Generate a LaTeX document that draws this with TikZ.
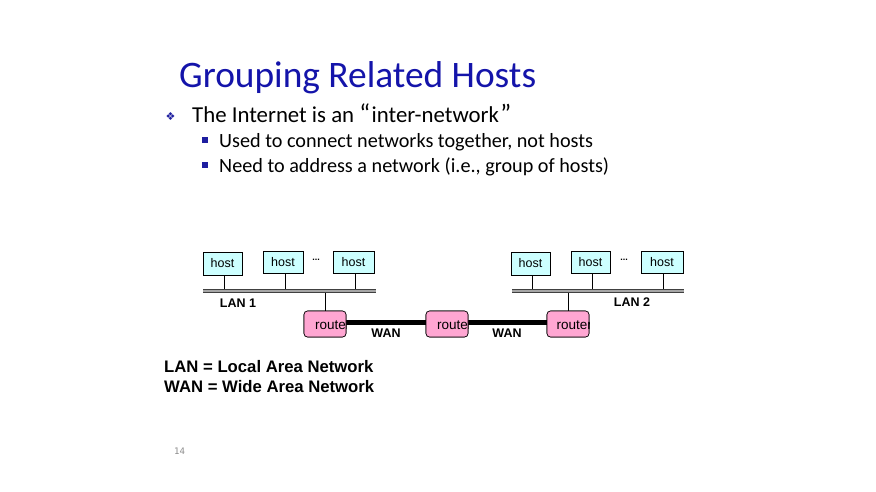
\documentclass[tikz,border=0pt]{standalone}
\usepackage{fontspec}
\setmainfont{Carlito}
\newfontfamily\diagfont{Liberation Sans}
\newfontfamily\symfont{DejaVu Sans}
\newfontfamily\numfont{DejaVu Sans Mono}
\definecolor{titleblue}{RGB}{20,20,170}
\definecolor{bulletblue}{RGB}{30,30,160}
\definecolor{hostfill}{RGB}{204,255,255}
\definecolor{routerfill}{RGB}{255,166,210}
\begin{document}
\begin{tikzpicture}[x=1pt,y=-1pt,
  hostbox/.style={draw=black, fill=hostfill, line width=0.6pt, inner sep=0pt,
    font=\diagfont\fontsize{12.5}{13}\selectfont},
  routerbox/.style={draw=black, fill=routerfill, rounded corners=3.5pt, line width=0.6pt,
    inner sep=0pt, minimum width=42pt, minimum height=26pt,
    path picture={\node[font=\diagfont\fontsize{13.5}{14}\selectfont, anchor=west, inner sep=0pt]
      at ([xshift=#1,yshift=-1.5pt]path picture bounding box.west) {router};}},
  routerbox/.default=7.5pt,
  bus/.style={draw=black!75, double=black!35, line width=0.8pt, double distance=1.6pt},
  drop/.style={draw=black, line width=0.6pt},
  wan/.style={draw=black, line width=5pt},
  netlabel/.style={font=\diagfont\bfseries\fontsize{12.5}{13}\selectfont},
  legend/.style={font=\diagfont\bfseries\fontsize{16.7}{20}\selectfont, anchor=base west},
  dots/.style={font=\diagfont\bfseries\fontsize{9}{10}\selectfont, inner sep=0pt}
]
\useasboundingbox[fill=white] (0,0) rectangle (876,491);

% heading and bullet text
\node[anchor=base west, inner sep=0pt, text=titleblue,
  font=\fontsize{37.4}{40}\selectfont] (title) at (179,87) {Grouping Related Hosts};
\node[anchor=base, inner sep=0pt, text=bulletblue,
  font=\symfont\fontsize{11}{12}\selectfont] (b0) at (170.5,120) {❖};
\node[anchor=base west, inner sep=0pt, font=\fontsize{22.8}{24}\selectfont]
  (l1) at (192,122) {The Internet is an {\fontsize{26}{26}\selectfont“}\kern1.5pt inter-network\kern1.5pt{\fontsize{26}{26}\selectfont”}};
\node[fill=bulletblue, minimum size=6pt, inner sep=0pt] (b1) at (205,140) {};
\node[anchor=base west, inner sep=0pt, font=\fontsize{20.2}{22}\selectfont]
  (l2) at (219,147) {Used to connect networks together, not hosts};
\node[fill=bulletblue, minimum size=6pt, inner sep=0pt] (b2) at (205,165) {};
\node[anchor=base west, inner sep=0pt, font=\fontsize{20.2}{22}\selectfont]
  (l3) at (219,172) {Need to address a network (i.e., group of hosts)};

% LAN 1
\node[hostbox, minimum width=39pt, minimum height=23pt] (h1) at (222.5,263.5) {host};
\node[hostbox, minimum width=40pt, minimum height=22pt] (h2) at (283,262) {host};
\node[hostbox, minimum width=41pt, minimum height=22pt] (h3) at (353.5,262) {host};
\node[dots] (d1) at (316,259.5) {...};
\coordinate (bus1w) at (203,291);
\coordinate (bus1e) at (376,291);

% LAN 2
\node[hostbox, minimum width=39pt, minimum height=23pt] (h4) at (530.5,263.5) {host};
\node[hostbox, minimum width=39pt, minimum height=22pt] (h5) at (590.5,262) {host};
\node[hostbox, minimum width=42pt, minimum height=22pt] (h6) at (662,262) {host};
\node[dots] (d2) at (624,259.5) {...};
\coordinate (bus2w) at (512,291);
\coordinate (bus2e) at (684,291);

% routers
\node[routerbox] (r1) at (325,324) {};
\node[routerbox] (r2) at (447,324) {};
\node[routerbox=6pt] (r3) at (568,324) {};

% host drops
\draw[drop] ([xshift=1.5pt]h1.south) -- ([xshift=1.5pt]h1.south |- bus1w);
\draw[drop] ([xshift=2pt]h2.south) -- ([xshift=2pt]h2.south |- bus1w);
\draw[drop] ([xshift=1.5pt]h3.south) -- ([xshift=1.5pt]h3.south |- bus1w);
\draw[drop] ([xshift=1.5pt]h4.south) -- ([xshift=1.5pt]h4.south |- bus2w);
\draw[drop] ([xshift=1.5pt]h5.south) -- ([xshift=1.5pt]h5.south |- bus2w);
\draw[drop] ([xshift=1pt]h6.south) -- ([xshift=1pt]h6.south |- bus2w);
\draw[drop] (r1.north) -- (r1.north |- bus1w);
\draw[drop] (r3.north) -- (r3.north |- bus2w);

% LAN buses
\draw[bus] (bus1w) -- (bus1e);
\draw[bus] (bus2w) -- (bus2e);

% WAN links, routers redrawn on top
\draw[wan] ([yshift=2pt]r1.east) -- ([yshift=2pt]r2.west);
\draw[wan] ([yshift=2pt]r2.east) -- ([yshift=2pt]r3.west);
\node[routerbox] at (r1) {};
\node[routerbox] at (r2) {};
\node[routerbox=6pt] at (r3) {};

% labels
\node[netlabel] (lan1) at (238,303) {LAN 1};
\node[netlabel] (lan2) at (632,302) {LAN 2};
\node[netlabel] (wan1) at (386,333.5) {WAN};
\node[netlabel] (wan2) at (507,333.5) {WAN};

% legend
\node[legend, inner sep=0pt] (k1) at (164,372) {LAN = Local Area Network};
\node[legend, inner sep=0pt] (k2) at (164,392) {WAN = Wide Area Network};

% slide number
\node[anchor=base west, inner sep=0pt, text=black!45,
  font=\numfont\fontsize{9}{10}\selectfont] (pg) at (174,454) {14};
\end{tikzpicture}
\end{document}
